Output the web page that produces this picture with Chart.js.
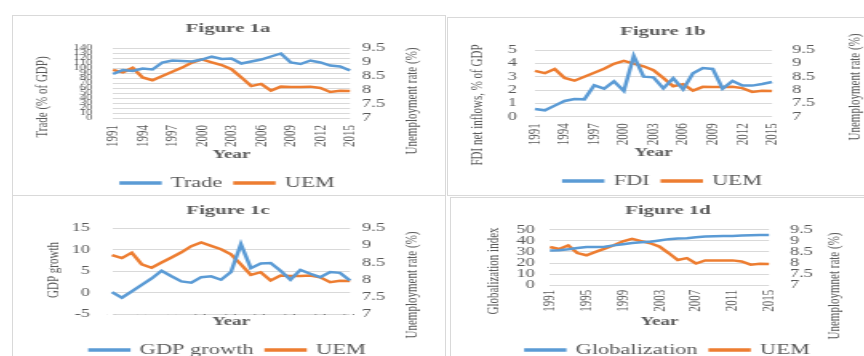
<!DOCTYPE html>
<html>
<head>
<meta charset="utf-8">
<script src="https://cdn.jsdelivr.net/npm/chart.js@4.4.1/dist/chart.umd.min.js"></script>
<style>
    html, body { margin: 0; padding: 0; background: #fff; }
    body { width: 864px; height: 356px; overflow: hidden; position: relative; }
    .frame { position: absolute; border: 1px solid #d9d9d9; box-sizing: border-box; }
    canvas { position: absolute; }
</style>
</head>
<body>
<div class="frame" style="left:12px;top:15px;width:434px;height:181px"></div>
<div class="frame" style="left:447px;top:17px;width:430px;height:179px"></div>
<div class="frame" style="left:12px;top:195px;width:434px;height:200px"></div>
<div class="frame" style="left:450px;top:197px;width:430px;height:200px"></div>

<canvas id="fig1a" width="270" height="185" style="left:12px;top:15px;width:432px;height:185px"></canvas>
<canvas id="fig1b" width="270" height="181" style="left:447px;top:17px;width:432px;height:181px"></canvas>
<canvas id="fig1c" width="270" height="172" style="left:12px;top:195px;width:432px;height:172px"></canvas>
<canvas id="fig1d" width="270" height="170" style="left:452px;top:197px;width:432px;height:170px"></canvas>

<script>
const years = ["1991", "1992", "1993", "1994", "1995", "1996", "1997", "1998", "1999", "2000",
    "2001", "2002", "2003", "2004", "2005", "2006", "2007", "2008", "2009", "2010",
    "2011", "2012", "2013", "2014", "2015"];
const yearTicksBy3 = ["1991", "1994", "1997", "2000", "2003", "2006", "2009", "2012", "2015"];
const yearTicksBy4 = ["1991", "1995", "1999", "2003", "2007", "2011", "2015"];

const uem = [8.72, 8.63, 8.79, 8.45, 8.35, 8.50, 8.65, 8.80, 8.98, 9.09,
    8.99, 8.89, 8.74, 8.45, 8.14, 8.22, 7.98, 8.12, 8.11, 8.11,
    8.12, 8.07, 7.93, 7.97, 7.96];
const trade = [88, 96, 94, 99, 97, 111, 115, 114, 113, 117,
    123, 118, 119, 109, 113, 117, 123, 129, 111, 108,
    115, 111, 105, 103, 95];
const fdi = [0.58, 0.48, 0.83, 1.18, 1.33, 1.30, 2.35, 2.10, 2.65, 1.93,
    4.55, 3.00, 2.95, 2.13, 2.88, 2.05, 3.25, 3.65, 3.58, 2.10,
    2.68, 2.33, 2.33, 2.45, 2.60];
const gdpGrowth = [0.1, -1.2, 0.3, 1.8, 3.3, 5.1, 3.8, 2.6, 2.3, 3.6,
    3.8, 3.0, 4.8, 11.3, 5.7, 6.8, 6.9, 5.1, 3.0, 5.3,
    4.4, 3.6, 4.8, 4.6, 2.8];
const globalization = [31.2, 31.5, 32.4, 33.5, 34.4, 34.4, 34.7, 35.9, 37.0, 38.0,
    38.8, 39.1, 40.3, 41.5, 42.0, 42.4, 43.2, 43.8, 44.1, 44.4,
    44.4, 44.7, 45.0, 45.3, 45.3];

// the reference is stretched sideways, so each canvas is drawn narrow and widened by css
const STRETCH = 1.6;
const INNER_WIDTH = 270;
const LEGEND_FONT = 14;
const LEGEND_PAD = 8;
const BLUE = "#5b9bd5";
const ORANGE = "#ed7d31";
const TEXT = "#595959";
const GRID = "#d9d9d9";
const SERIF = "'Liberation Serif', 'Times New Roman', serif";

// y axis titles read bottom-to-top on both sides, as in Excel
const verticalTitles = {
    id: "verticalTitles",
    afterDraw(chart, args, opts) {
        const ctx = chart.ctx;
        (opts.items || []).forEach(item => {
            ctx.save();
            ctx.translate(item.x / STRETCH, item.y);
            ctx.rotate(-Math.PI / 2);
            ctx.font = `11px ${SERIF}`;
            ctx.fillStyle = TEXT;
            ctx.textAlign = "center";
            ctx.textBaseline = "middle";
            ctx.fillText(item.text, 0, 0);
            ctx.restore();
        });
    }
};

function drawPanel(id, series, seriesName, leftAxis, yearTicks, box) {
    const legendTop = box.height - (LEGEND_FONT + LEGEND_PAD + 10);
    const titleTop = box.titleY - 7.8;

    new Chart(document.getElementById(id), {
        type: "line",
        data: {
            labels: years,
            datasets: [
                { label: seriesName, data: series, borderColor: BLUE, backgroundColor: BLUE, yAxisID: "y" },
                { label: "UEM", data: uem, borderColor: ORANGE, backgroundColor: ORANGE, yAxisID: "y1" }
            ]
        },
        options: {
            responsive: false,
            animation: false,
            events: [],
            devicePixelRatio: 1,
            elements: {
                point: { radius: 0 },
                line: { borderWidth: 2.5, tension: 0 }
            },
            layout: { padding: 0 },
            plugins: {
                title: {
                    display: true,
                    text: box.title,
                    color: TEXT,
                    font: { family: SERIF, size: 13, weight: "bold", lineHeight: 1.2 },
                    padding: { top: titleTop, bottom: box.plotTop - titleTop - 15.6 }
                },
                legend: {
                    position: "bottom",
                    labels: {
                        color: TEXT,
                        font: { family: SERIF, size: LEGEND_FONT },
                        boxWidth: 24,
                        boxHeight: 1,
                        padding: LEGEND_PAD
                    }
                },
                tooltip: { enabled: false },
                verticalTitles: { items: [box.leftTitle, box.rightTitle] }
            },
            scales: {
                x: {
                    grid: { display: false, drawTicks: false },
                    border: { display: false },
                    ticks: {
                        autoSkip: false,
                        minRotation: 90,
                        maxRotation: 90,
                        padding: box.labelTop - box.plotBottom,
                        color: TEXT,
                        font: { family: SERIF, size: 11 },
                        callback(value) {
                            const year = this.getLabelForValue(value);
                            return yearTicks.includes(year) ? year : "";
                        }
                    },
                    title: {
                        display: true,
                        text: "Year",
                        color: TEXT,
                        font: { family: SERIF, size: 12, weight: "bold", lineHeight: 1 },
                        padding: { top: 0, bottom: legendTop - box.yearY - 6 }
                    },
                    afterFit(scale) { scale.height = legendTop - box.plotBottom; }
                },
                y: {
                    position: "left",
                    min: leftAxis.min,
                    max: leftAxis.max,
                    grid: { color: GRID, drawTicks: false },
                    border: { display: false },
                    ticks: {
                        stepSize: leftAxis.step,
                        autoSkip: false,
                        padding: box.leftPad,
                        color: TEXT,
                        font: { family: SERIF, size: leftAxis.fontSize }
                    },
                    afterFit(scale) { scale.width = box.plotLeft / STRETCH; }
                },
                y1: {
                    position: "right",
                    min: 7,
                    max: 9.5,
                    grid: { display: false, drawTicks: false },
                    border: { display: false },
                    ticks: {
                        stepSize: 0.5,
                        autoSkip: false,
                        padding: box.rightPad,
                        color: TEXT,
                        font: { family: SERIF, size: 11.5 },
                        callback: value => String(value)
                    },
                    afterFit(scale) { scale.width = INNER_WIDTH - box.plotRight / STRETCH; }
                }
            }
        },
        plugins: [verticalTitles]
    });
}

drawPanel("fig1a", trade, "Trade", { min: 0, max: 140, step: 10, fontSize: 8 }, yearTicksBy3, {
    title: "Figure 1a", height: 185, titleY: 14,
    plotLeft: 101, plotRight: 338, plotTop: 33, plotBottom: 103,
    labelTop: 110, yearY: 140, leftPad: 13, rightPad: 7.5,
    leftTitle: { x: 30, y: 82, text: "Trade (% of GDP)" },
    rightTitle: { x: 400, y: 86, text: "Unemployment rate (%)" }
});

drawPanel("fig1b", fdi, "FDI", { min: 0, max: 5, step: 1, fontSize: 11.5 }, yearTicksBy3, {
    title: "Figure 1b", height: 181, titleY: 15,
    plotLeft: 88, plotRight: 325, plotTop: 33, plotBottom: 99.7,
    labelTop: 106.3, yearY: 136, leftPad: 11.25, rightPad: 12.5,
    leftTitle: { x: 30, y: 88, text: "FDI net inflows, % of GDP" },
    rightTitle: { x: 408, y: 70, text: "Unemployment rate (%)" }
});

drawPanel("fig1c", gdpGrowth, "GDP growth", { min: -5, max: 15, step: 5, fontSize: 11.5 }, yearTicksBy3, {
    title: "Figure 1c", height: 172, titleY: 16,
    plotLeft: 100, plotRight: 338, plotTop: 33.3, plotBottom: 119,
    labelTop: 98.3, yearY: 127, leftPad: 13.75, rightPad: 7.5,
    leftTitle: { x: 41, y: 75, text: "GDP growth" },
    rightTitle: { x: 400, y: 90, text: "Unemployment rate (%)" }
});

drawPanel("fig1d", globalization, "Globalization", { min: 0, max: 50, step: 10, fontSize: 11.5 }, yearTicksBy4, {
    title: "Figure 1d", height: 170, titleY: 14,
    plotLeft: 98, plotRight: 317, plotTop: 32.7, plotBottom: 88.3,
    labelTop: 92.7, yearY: 125, leftPad: 9.4, rightPad: 13.1,
    leftTitle: { x: 42, y: 74, text: "Globalization index" },
    rightTitle: { x: 383, y: 89, text: "Unemploymnet rate (%)" }
});
</script>
</body>
</html>
